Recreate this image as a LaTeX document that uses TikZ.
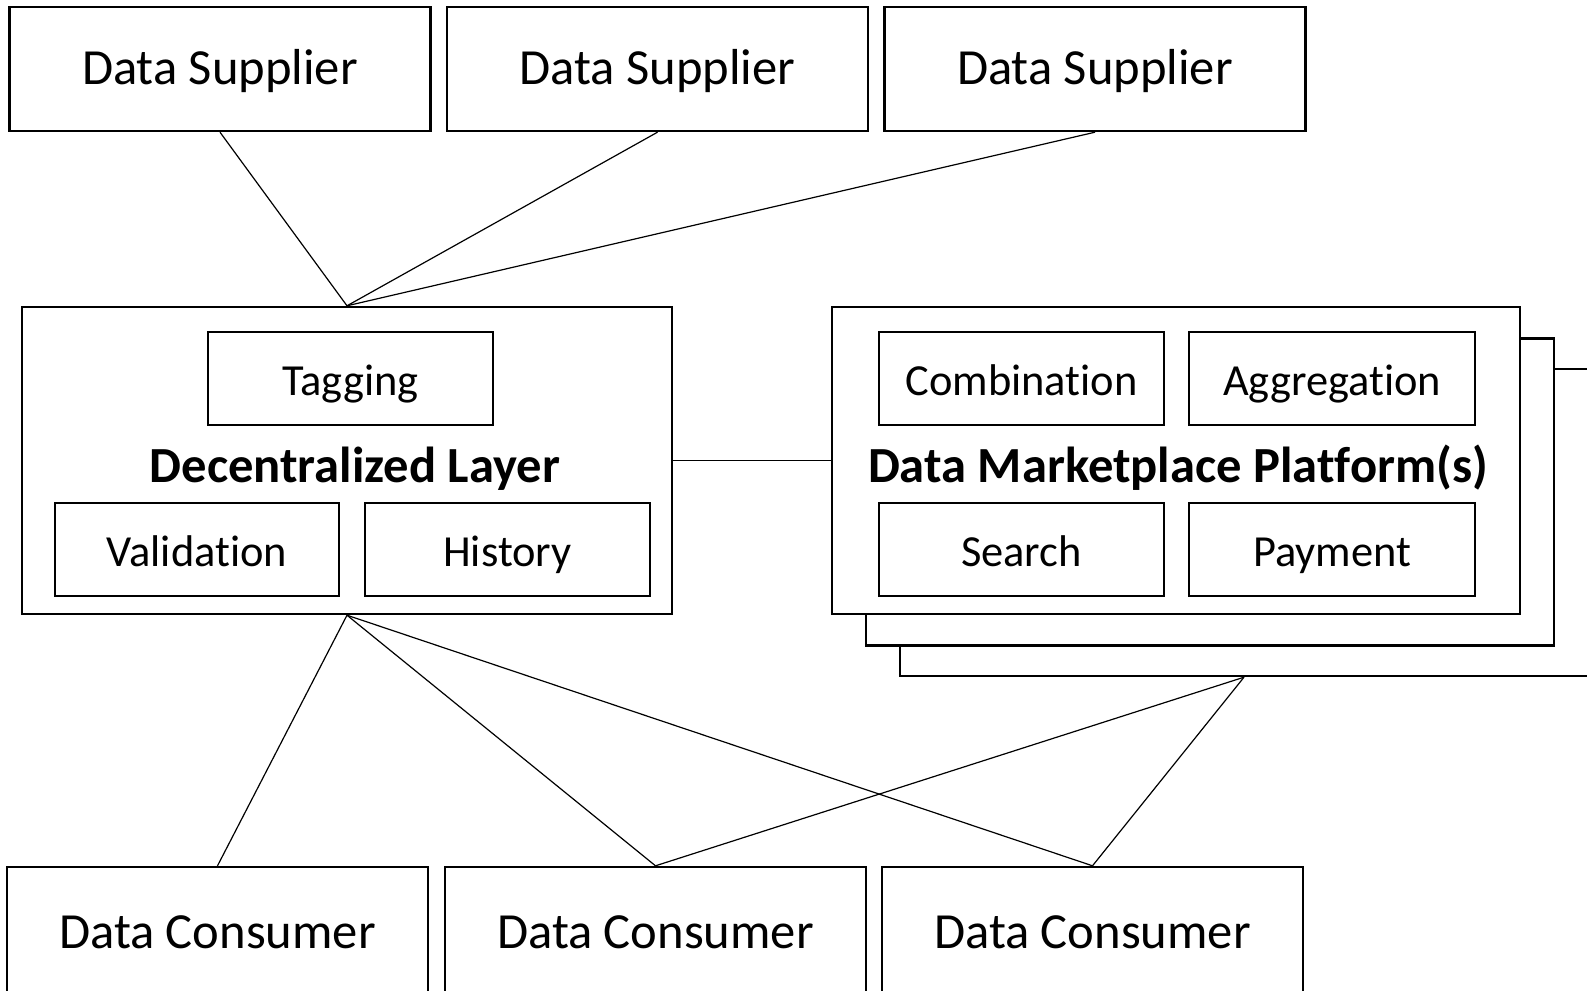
\documentclass[tikz,border=0pt]{standalone}
\usepackage{fontspec}
\setmainfont{Carlito}[Ligatures=NoCommon]
\begin{document}
\begin{tikzpicture}[x=0.5pt,y=-0.5pt,
  box/.style={draw,line width=1.2pt,fill=white,inner sep=0pt,
    minimum width=#1*0.5pt},
  bigbox/.style={box=421,minimum height=62pt,font=\fontsize{25.3}{28}\selectfont,
    text height=17pt,text depth=1.8pt},
  sub/.style={box=285,minimum height=46.5pt,font=\fontsize{22.2}{25}\selectfont,
    text height=16.5pt,text depth=0pt},
  layer/.style={box=#1,minimum height=153.5pt},
  title/.style={font=\bfseries\fontsize{25.3}{28}\selectfont,inner sep=0pt,
    text height=17.7pt,text depth=5pt},
  link/.style={line width=0.6pt}]
\useasboundingbox (0,0) rectangle (1587,991);

% suppliers
\node[bigbox] (s1) at (220,69) {Data Supplier};
\node[bigbox] (s2) at (657.5,69) {Data Supplier};
\node[bigbox] (s3) at (1095,69) {Data Supplier};

% consumers
\node[bigbox,minimum height=64pt,text depth=0pt] (c1) at (217.5,931) {Data Consumer};
\node[bigbox,minimum height=64pt,text depth=0pt] (c2) at (655.5,931) {Data Consumer};
\node[bigbox,minimum height=64pt,text depth=0pt] (c3) at (1092.5,931) {Data Consumer};

% decentralized layer
\node[layer=650] (dl) at (347,460.5) {};
\node[sub] (tag) at (350.5,378.5) {Tagging};
\node[title] (dlt) at (355,470) {Decentralized Layer};
\node[sub,minimum width=142pt] (val) at (197,549.5) {Validation};
\node[sub] (hist) at (507.5,549.5) {History};

% stacked marketplace platforms
\node[layer=688] (p3) at (1244,522.5) {};
\node[layer=688] (p2) at (1210,492) {};
\node[layer=688] (p1) at (1176,460.5) {};
\node[sub] (comb) at (1021.5,378.5) {Combination};
\node[sub,minimum width=143pt] (aggr) at (1332,378.5) {Aggregation};
\node[title] (pt) at (1178,470) {Data Marketplace Platform(s)};
\node[sub] (srch) at (1021.5,549.5) {Search};
\node[sub,minimum width=143pt] (pay) at (1332,549.5) {Payment};

% connections
\draw[link] (s1.south) -- (dl.north);
\draw[link] (s2.south) -- (dl.north);
\draw[link] (s3.south) -- (dl.north);
\draw[link] (dl.east) -- (p1.west);
\draw[link] (dl.south) -- (c1.north);
\draw[link] (dl.south) -- (c2.north);
\draw[link] (dl.south) -- (c3.north);
\draw[link] (p3.south) -- (c2.north);
\draw[link] (p3.south) -- (c3.north);
\end{tikzpicture}
\end{document}
